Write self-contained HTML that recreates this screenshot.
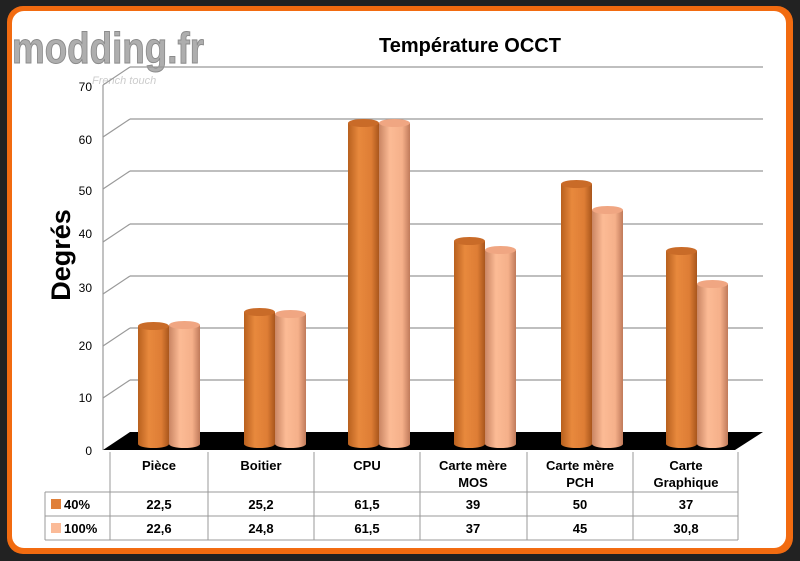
<!DOCTYPE html>
<html><head><meta charset="utf-8"><style>
body{margin:0;background:#222;}
svg{display:block;font-family:"Liberation Sans",sans-serif;}
</style></head><body>
<svg width="800" height="561" viewBox="0 0 800 561" xmlns="http://www.w3.org/2000/svg">
<defs>
<linearGradient id="o" x1="0" x2="1"><stop offset="0" stop-color="#b8601e"/><stop offset="0.35" stop-color="#e8893d"/><stop offset="0.75" stop-color="#de7d35"/><stop offset="1" stop-color="#a9561c"/></linearGradient>
<linearGradient id="p" x1="0" x2="1"><stop offset="0" stop-color="#c98563"/><stop offset="0.35" stop-color="#fcbb95"/><stop offset="0.75" stop-color="#f5b08a"/><stop offset="1" stop-color="#c07a5a"/></linearGradient>
</defs>
<rect x="0" y="0" width="800" height="561" fill="#222"/>
<rect x="7" y="6" width="786" height="548" rx="16" fill="#f26b10"/>
<rect x="12" y="11" width="774" height="537" rx="12" fill="#fff"/>
<text x="12" y="63" font-size="44" font-weight="bold" fill="#a0a0a0" stroke="#777" stroke-width="1" textLength="192" lengthAdjust="spacingAndGlyphs" opacity="0.85">modding.fr</text>
<text x="92" y="84" font-size="11" font-style="italic" fill="#ccc">French touch</text>
<text x="470" y="52" font-size="20" font-weight="bold" text-anchor="middle" fill="#000">Température OCCT</text>
<text transform="translate(70,255) rotate(-90)" font-size="27" font-weight="bold" text-anchor="middle" fill="#000">Degrés</text>
<g stroke="#999" stroke-width="1.2" fill="none">
<line x1="103" y1="85" x2="103" y2="450"/>
<line x1="130" y1="67" x2="763" y2="67"/>
<line x1="130" y1="119" x2="763" y2="119"/>
<line x1="130" y1="171" x2="763" y2="171"/>
<line x1="130" y1="224" x2="763" y2="224"/>
<line x1="130" y1="276" x2="763" y2="276"/>
<line x1="130" y1="328" x2="763" y2="328"/>
<line x1="130" y1="380" x2="763" y2="380"/>
<line x1="103" y1="85" x2="130" y2="67"/>
<line x1="103" y1="137" x2="130" y2="119"/>
<line x1="103" y1="189" x2="130" y2="171"/>
<line x1="103" y1="242" x2="130" y2="224"/>
<line x1="103" y1="294" x2="130" y2="276"/>
<line x1="103" y1="346" x2="130" y2="328"/>
<line x1="103" y1="398" x2="130" y2="380"/>
</g>
<g font-size="12" fill="#000" text-anchor="end">
<text x="92" y="91">70</text><text x="92" y="144">60</text><text x="92" y="195">50</text><text x="92" y="238">40</text><text x="92" y="292">30</text><text x="92" y="350">20</text><text x="92" y="402">10</text><text x="92" y="455">0</text>
</g>
<polygon points="103,450 130,432 763,432 735,450" fill="#000"/>
<g stroke="#999" stroke-width="1" fill="none">
<line x1="110" y1="452" x2="110" y2="540"/>
<line x1="45" y1="492" x2="738" y2="492"/>
<line x1="45" y1="516" x2="738" y2="516"/>
<line x1="45" y1="540" x2="738" y2="540"/>
<line x1="45" y1="492" x2="45" y2="540"/>
<line x1="208" y1="452" x2="208" y2="540"/><line x1="314" y1="452" x2="314" y2="540"/><line x1="420" y1="452" x2="420" y2="540"/><line x1="527" y1="452" x2="527" y2="540"/><line x1="633" y1="452" x2="633" y2="540"/><line x1="738" y1="452" x2="738" y2="540"/>
</g>
<g font-size="13" font-weight="bold" text-anchor="middle" fill="#000">
<text x="159" y="470">Pièce</text><text x="261" y="470">Boitier</text><text x="367" y="470">CPU</text>
<text x="473" y="470">Carte mère</text><text x="473" y="487">MOS</text>
<text x="580" y="470">Carte mère</text><text x="580" y="487">PCH</text>
<text x="686" y="470">Carte</text><text x="686" y="487">Graphique</text>
<text x="159" y="509">22,5</text><text x="261" y="509">25,2</text><text x="367" y="509">61,5</text><text x="473" y="509">39</text><text x="580" y="509">50</text><text x="686" y="509">37</text>
<text x="159" y="533">22,6</text><text x="261" y="533">24,8</text><text x="367" y="533">61,5</text><text x="473" y="533">37</text><text x="580" y="533">45</text><text x="686" y="533">30,8</text>
</g>
<rect x="51" y="499" width="10" height="10" fill="#e0803a"/>
<rect x="51" y="523" width="10" height="10" fill="#fbbb98"/>
<text x="64" y="509" font-size="13" font-weight="bold">40%</text>
<text x="64" y="533" font-size="13" font-weight="bold">100%</text>
<g>
<path d="M138,326 v118 a15.5,4 0 0 0 31,0 v-118 z" fill="url(#o)"/><ellipse cx="153.5" cy="326" rx="15.5" ry="4" fill="#c96b28"/>
<path d="M169,325 v119 a15.5,4 0 0 0 31,0 v-119 z" fill="url(#p)"/><ellipse cx="184.5" cy="325" rx="15.5" ry="4" fill="#f0a682"/>
<path d="M244,312 v132 a15.5,4 0 0 0 31,0 v-132 z" fill="url(#o)"/><ellipse cx="259.5" cy="312" rx="15.5" ry="4" fill="#c96b28"/>
<path d="M275,314 v130 a15.5,4 0 0 0 31,0 v-130 z" fill="url(#p)"/><ellipse cx="290.5" cy="314" rx="15.5" ry="4" fill="#f0a682"/>
<path d="M348,123 v321 a15.5,4 0 0 0 31,0 v-321 z" fill="url(#o)"/><ellipse cx="363.5" cy="123" rx="15.5" ry="4" fill="#c96b28"/>
<path d="M379,123 v321 a15.5,4 0 0 0 31,0 v-321 z" fill="url(#p)"/><ellipse cx="394.5" cy="123" rx="15.5" ry="4" fill="#f0a682"/>
<path d="M454,241 v203 a15.5,4 0 0 0 31,0 v-203 z" fill="url(#o)"/><ellipse cx="469.5" cy="241" rx="15.5" ry="4" fill="#c96b28"/>
<path d="M485,250 v194 a15.5,4 0 0 0 31,0 v-194 z" fill="url(#p)"/><ellipse cx="500.5" cy="250" rx="15.5" ry="4" fill="#f0a682"/>
<path d="M561,184 v260 a15.5,4 0 0 0 31,0 v-260 z" fill="url(#o)"/><ellipse cx="576.5" cy="184" rx="15.5" ry="4" fill="#c96b28"/>
<path d="M592,210 v234 a15.5,4 0 0 0 31,0 v-234 z" fill="url(#p)"/><ellipse cx="607.5" cy="210" rx="15.5" ry="4" fill="#f0a682"/>
<path d="M666,251 v193 a15.5,4 0 0 0 31,0 v-193 z" fill="url(#o)"/><ellipse cx="681.5" cy="251" rx="15.5" ry="4" fill="#c96b28"/>
<path d="M697,284 v160 a15.5,4 0 0 0 31,0 v-160 z" fill="url(#p)"/><ellipse cx="712.5" cy="284" rx="15.5" ry="4" fill="#f0a682"/>
</g>
</svg>
</body></html>
